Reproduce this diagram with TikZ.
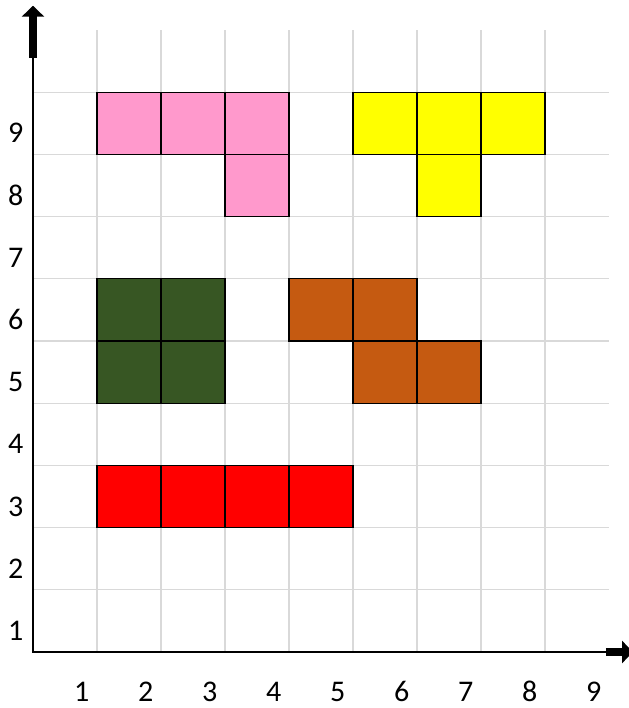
\documentclass[tikz,border=0pt]{standalone}
\usepackage{fontspec}
\setmainfont{Carlito}
\usetikzlibrary{arrows.meta}

\definecolor{pinkCell}{HTML}{FF99CC}
\definecolor{yellowCell}{HTML}{FFFF00}
\definecolor{greenCell}{HTML}{375623}
\definecolor{orangeCell}{HTML}{C55A11}
\definecolor{redCell}{HTML}{FF0000}
\definecolor{gridGray}{HTML}{D9D9D9}

\begin{document}
\begin{tikzpicture}[
    x=64pt, y=62.2pt,
    gridline/.style={gridGray, line width=1.3pt},
    axisline/.style={black, line width=1.4pt},
    cell/.style={draw=black, line width=1.3pt},
    axisnum/.style={font=\fontsize{30}{34}\selectfont, inner sep=0pt}
]

    % === CANVAS ===
    \useasboundingbox (-33pt,-56pt) rectangle (595pt,652pt);

    % === 1. GRID ===
    \foreach \gx in {1,...,8}
        \draw[gridline] (\gx,0) -- (\gx,10);
    \foreach \gy in {1,...,9}
        \draw[gridline] (0,\gy) -- (9,\gy);

    % === 2. SHAPES ===
    % Pink T (top left)
    \foreach \cx/\cy in {1/8, 2/8, 3/8, 3/7}
        \filldraw[cell, fill=pinkCell] (\cx,\cy) rectangle ++(1,1);
    % Yellow T (top right)
    \foreach \cx/\cy in {5/8, 6/8, 7/8, 6/7}
        \filldraw[cell, fill=yellowCell] (\cx,\cy) rectangle ++(1,1);
    % Green square
    \foreach \cx/\cy in {1/5, 2/5, 1/4, 2/4}
        \filldraw[cell, fill=greenCell] (\cx,\cy) rectangle ++(1,1);
    % Orange Z
    \foreach \cx/\cy in {4/5, 5/5, 5/4, 6/4}
        \filldraw[cell, fill=orangeCell] (\cx,\cy) rectangle ++(1,1);
    % Red bar
    \foreach \cx in {1,...,4}
        \filldraw[cell, fill=redCell] (\cx,2) rectangle ++(1,1);

    % === 3. AXES ===
    \coordinate (Origin) at (0,0);
    \coordinate (YShaft) at (0,9.55);
    \coordinate (YTip) at (0,10.39);
    \coordinate (XShaft) at (8.95,0);
    \coordinate (XTip) at (9.375,0);

    \draw[axisline] (YShaft) -- (Origin) -- (XShaft);
    \draw[line width=8pt, -{Triangle[length=11pt, width=22pt]}] (YShaft) -- (YTip);
    \draw[line width=8pt, -{Triangle[length=11pt, width=22pt]}] (XShaft) -- (XTip);

    % === 4. AXIS NUMBERS ===
    \foreach \k in {1,...,9} {
        \node[axisnum] (xnum\k) at (\k-0.24,-0.635) {\k};
        \node[axisnum] (ynum\k) at (-0.27,\k-0.66) {\k};
    }

\end{tikzpicture}
\end{document}
